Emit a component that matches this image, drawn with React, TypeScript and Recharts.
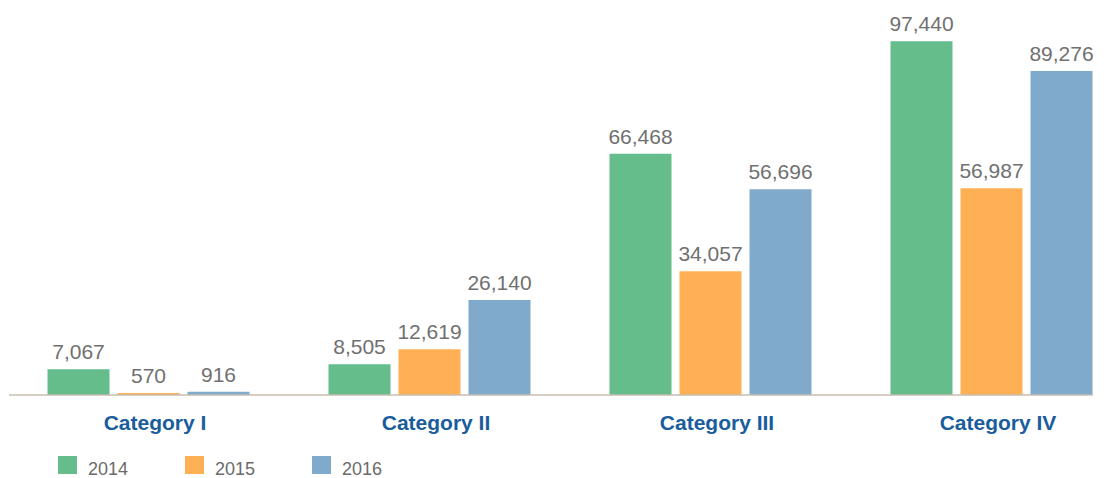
import React from 'react';
import { BarChart, Bar, XAxis, YAxis, LabelList, Legend } from 'recharts';

const categories = ['Category I', 'Category II', 'Category III', 'Category IV'];
const series2014 = [7067, 8505, 66468, 97440];
const series2015 = [570, 12619, 34057, 56987];
const series2016 = [916, 26140, 56696, 89276];
const seriesNames = ['2014', '2015', '2016'];
const seriesColors = ['#66BD8C', '#FFB055', '#7FAACB'];

const data = categories.map((c, i) => ({
  name: c,
  y2014: series2014[i],
  y2015: series2015[i],
  y2016: series2016[i],
}));

const FONT = '"Liberation Sans", Arial, Helvetica, sans-serif';
const fmt = (v: any) => Number(v).toLocaleString('en-US');

const LegendContent = () => (
  <div
    style={{
      display: 'flex',
      height: 30,
      boxSizing: 'border-box',
      paddingTop: 8,
      paddingLeft: 49,
      fontFamily: FONT,
    }}
  >
    {seriesNames.map((n, i) => (
      <div key={n} style={{ display: 'flex', alignItems: 'flex-start', width: 127 }}>
        <div style={{ width: 19, height: 18, background: seriesColors[i] }} />
        <span style={{ marginLeft: 11, marginTop: 4, fontSize: 18, lineHeight: '18px', color: '#6b6b6b' }}>{n}</span>
      </div>
    ))}
  </div>
);

export default function App() {
  const keys = ['y2014', 'y2015', 'y2016'];
  return (
    <div style={{ width: 1098, height: 470, fontFamily: FONT }}>
      <BarChart
        width={1098}
        height={470}
        data={data}
        margin={{ top: 24, right: 13, left: 1, bottom: 0 }}
        barSize={62}
        barGap={8}
      >
        <XAxis
          dataKey="name"
          height={53}
          tickSize={0}
          tickMargin={20}
          tickLine={false}
          padding={{ left: -1.5, right: -38.5 }}
          axisLine={{ stroke: '#c9bcb0', strokeWidth: 1.5 }}
          tick={{ fill: '#1a5d9c', fontSize: 21, fontWeight: 'bold', fontFamily: FONT, dx: 7 }}
        />
        <YAxis hide domain={[0, 100000]} />
        <Legend verticalAlign="bottom" align="left" content={<LegendContent />} />
        {keys.map((k, i) => (
          <Bar key={k} dataKey={k} name={seriesNames[i]} fill={seriesColors[i]} isAnimationActive={false}>
            <LabelList
              dataKey={k}
              position="top"
              offset={10}
              formatter={fmt}
              style={{ fill: '#707070', fontSize: 21, fontFamily: FONT }}
            />
          </Bar>
        ))}
      </BarChart>
    </div>
  );
}
